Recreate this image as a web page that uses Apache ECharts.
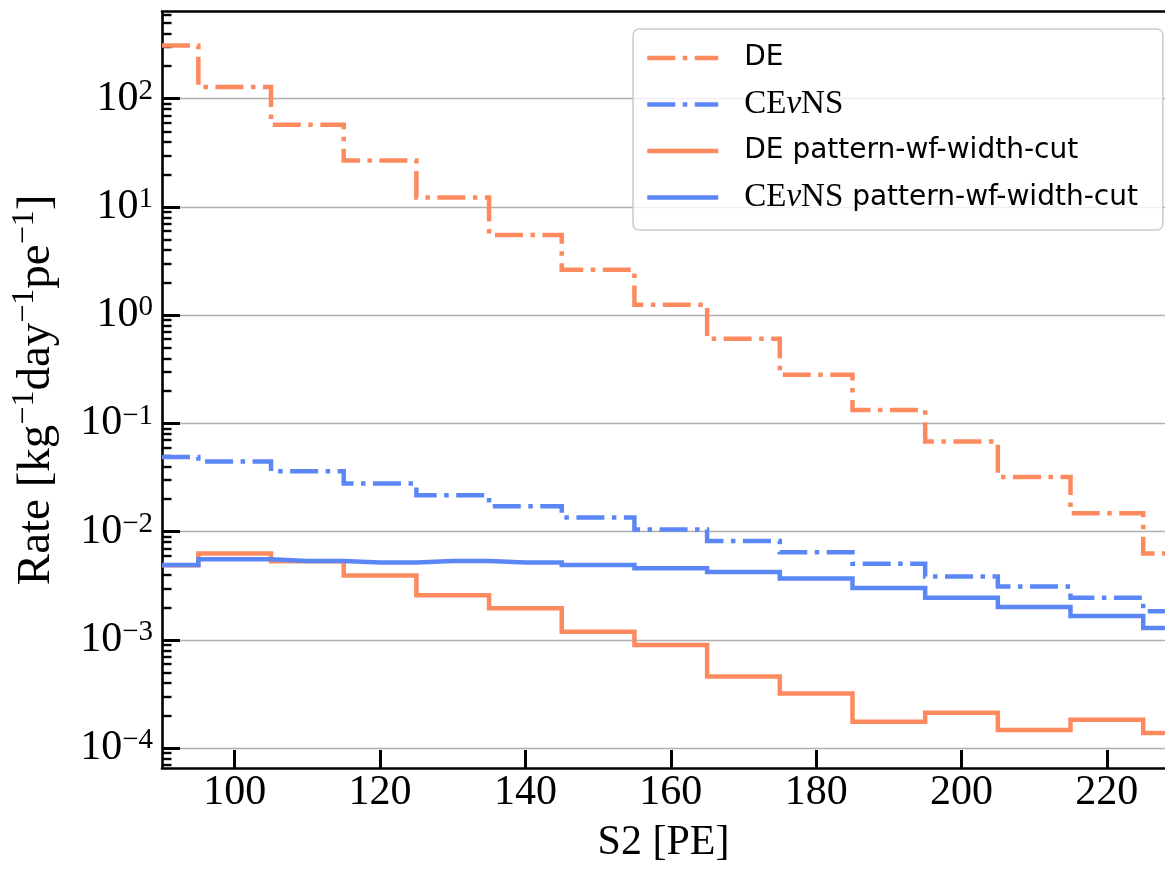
<!DOCTYPE html>
<html>
<head>
<meta charset="utf-8">
<title>Rate vs S2</title>
<script src="https://cdn.jsdelivr.net/npm/echarts@6/dist/echarts.min.js"></script>
<style>
  html, body { margin: 0; padding: 0; background: #ffffff; }
  #chart { width: 1165px; height: 872px; }
</style>
</head>
<body>
<div id="chart"></div>
<script>
// Histogram bin centres [PE]; each bin is 10 PE wide
const binCenters = [90, 100, 110, 120, 130, 140, 150, 160, 170, 180, 190, 200, 210, 220, 230];

// Rates in kg^-1 day^-1 pe^-1
const rateDE = [310, 128, 57.5, 26.8, 12.2, 5.5, 2.63, 1.25, 0.605, 0.282, 0.133, 0.068, 0.032, 0.0148, 0.0063];
const rateCEvNS = [0.049, 0.0446, 0.0361, 0.0279, 0.0217, 0.0172, 0.0135, 0.0105, 0.0082, 0.00646, 0.00505, 0.00386, 0.00312, 0.00246, 0.00184];
const rateDECut = [0.0049, 0.0063, 0.00533, 0.00394, 0.00259, 0.00196, 0.00119, 0.0009, 0.00046, 0.00032, 0.000176, 0.000213, 0.000147, 0.000183, 0.000138];
const rateCEvNSCut = [0.00493, 0.00557, 0.00537, 0.0052, 0.00537, 0.00519, 0.00493, 0.00459, 0.00425, 0.0037, 0.00302, 0.00245, 0.00202, 0.00166, 0.00129];

// Axis ticks
const xTicks = [100, 120, 140, 160, 180, 200, 220];
const yTickExponents = [-4, -3, -2, -1, 0, 1, 2];

const X_MIN = 90, X_MAX = 228;
const Y_MIN = 6.55e-5, Y_MAX = 636;

const ORANGE = '#fc8a5e';
const BLUE = '#5b87f6';
const DASH_DOT = [28, 7.5, 4.5, 7.5];
const SERIF = 'Liberation Serif';
const SANS = 'DejaVu Sans';

const yMajor = yTickExponents.map(e => Math.pow(10, e));
// minor log ticks: 2..9 x 10^k inside the visible range
const yMinor = [];
for (let k = -5; k <= 2; k++) {
  for (let m = 2; m <= 9; m++) {
    const v = m * Math.pow(10, k);
    if (v >= Y_MIN && v <= Y_MAX) yMinor.push(v);
  }
}

function pairs(values) {
  return binCenters.map((x, i) => [x, values[i]]);
}

function powerLabel(v) {
  const e = Math.round(Math.log10(v));
  return '{b|10}{s|' + String(e).replace('-', '\u2212') + '}';
}

function legendText(name) {
  let head, rest;
  if (name.indexOf('CE\u03bdNS') === 0) {
    head = '{rm|CE}{it|\u03bd}{rm|NS}';
    rest = name.slice(5);
  } else {
    head = '{sf|DE}';
    rest = name.slice(2);
  }
  return '{sp| }' + head + (rest ? '{sf|' + rest + '}' : '');
}

const NAME_DE = 'DE';
const NAME_CE = 'CE\u03bdNS';
const NAME_DE_CUT = 'DE pattern-wf-width-cut';
const NAME_CE_CUT = 'CE\u03bdNS pattern-wf-width-cut';

function stepSeries(name, values, color, dashed) {
  return {
    name: name,
    type: 'line',
    step: 'middle',
    data: pairs(values),
    xAxisIndex: 0,
    yAxisIndex: 0,
    symbol: 'none',
    showSymbol: false,
    clip: true,
    color: color,
    lineStyle: {
      color: color,
      width: 4.5,
      type: dashed ? DASH_DOT : 'solid',
      cap: 'butt',
      join: 'miter'
    },
    emphasis: { disabled: true }
  };
}

const chart = echarts.init(document.getElementById('chart'), null, { renderer: 'canvas' });

const option = {
  backgroundColor: '#ffffff',
  animation: false,
  grid: { left: 162, top: 11.7, width: 1006, height: 759, containLabel: false },
  xAxis: [
    {
      type: 'value',
      min: X_MIN,
      max: X_MAX,
      position: 'bottom',
      name: 'S2 [PE]',
      nameLocation: 'middle',
      nameGap: 45,
      nameTextStyle: { fontFamily: SERIF, fontSize: 42, lineHeight: 48, color: '#000' },
      axisLine: { show: true, onZero: false, lineStyle: { color: '#000', width: 2.6 } },
      axisTick: { show: true, inside: true, length: 18, customValues: xTicks, lineStyle: { color: '#000', width: 3 } },
      axisLabel: { show: true, customValues: xTicks, margin: 4, fontFamily: SERIF, fontSize: 42, lineHeight: 42, color: '#000' },
      splitLine: { show: false },
      minorTick: { show: false }
    },
    {
      type: 'value',
      min: X_MIN,
      max: X_MAX,
      position: 'top',
      axisLine: { show: true, onZero: false, lineStyle: { color: '#000', width: 2.6 } },
      axisTick: { show: false },
      axisLabel: { show: false },
      splitLine: { show: false }
    }
  ],
  yAxis: [
    {
      type: 'log',
      logBase: 10,
      min: Y_MIN,
      max: Y_MAX,
      position: 'left',
      name: '{t|Rate [kg}{s|\u22121}{t|day}{s|\u22121}{t|pe}{s|\u22121}{t|]}',
      nameLocation: 'middle',
      nameGap: 97,
      nameTextStyle: {
        color: '#000',
        rich: {
          t: { fontFamily: SERIF, fontSize: 47, lineHeight: 56, color: '#000' },
          s: { fontFamily: SERIF, fontSize: 32, lineHeight: 30, verticalAlign: 'top', color: '#000' }
        }
      },
      axisLine: { show: true, onZero: false, lineStyle: { color: '#000', width: 2.6 } },
      axisTick: { show: true, inside: true, length: 18, customValues: yMajor, lineStyle: { color: '#000', width: 3 } },
      axisLabel: {
        show: true,
        customValues: yMajor,
        margin: 9,
        formatter: powerLabel,
        rich: {
          b: { fontFamily: SERIF, fontSize: 42, lineHeight: 44, color: '#000' },
          s: { fontFamily: SERIF, fontSize: 29, lineHeight: 22, verticalAlign: 'top', color: '#000' }
        }
      },
      splitLine: { show: true, showMinLine: true, showMaxLine: true, lineStyle: { color: '#b0b0b0', width: 1.4 } },
      minorTick: { show: false }
    },
    {
      type: 'log',
      logBase: 10,
      min: Y_MIN,
      max: Y_MAX,
      position: 'left',
      offset: 0,
      axisLine: { show: false },
      axisTick: { show: true, inside: true, length: 9.5, customValues: yMinor, lineStyle: { color: '#000', width: 2.4 } },
      axisLabel: { show: false },
      splitLine: { show: false }
    }
  ],
  legend: {
    orient: 'vertical',
    left: 633,
    top: 29,
    itemWidth: 71,
    itemHeight: 14,
    itemGap: 16,
    padding: [15, 25, 16, 12],
    backgroundColor: 'rgba(255,255,255,0.8)',
    borderColor: '#cccccc',
    borderWidth: 1.5,
    borderRadius: 6,
    selectedMode: false,
    itemStyle: { color: 'rgba(0,0,0,0)', borderWidth: 0 },
    lineStyle: { width: 4.5 },
    formatter: legendText,
    textStyle: {
      width: 428,
      color: '#000',
      rich: {
        sp: { width: 21, fontSize: 10 },
        sf: { fontFamily: SANS, fontSize: 28, lineHeight: 34, color: '#000' },
        rm: { fontFamily: SERIF, fontSize: 33, lineHeight: 34, color: '#000' },
        it: { fontFamily: SERIF, fontSize: 33, fontStyle: 'italic', lineHeight: 34, color: '#000' }
      }
    },
    data: [NAME_DE, NAME_CE, NAME_DE_CUT, NAME_CE_CUT]
  },
  series: [
    stepSeries(NAME_DE, rateDE, ORANGE, true),
    stepSeries(NAME_CE, rateCEvNS, BLUE, true),
    stepSeries(NAME_DE_CUT, rateDECut, ORANGE, false),
    stepSeries(NAME_CE_CUT, rateCEvNSCut, BLUE, false)
  ]
};

chart.setOption(option);
</script>
</body>
</html>
